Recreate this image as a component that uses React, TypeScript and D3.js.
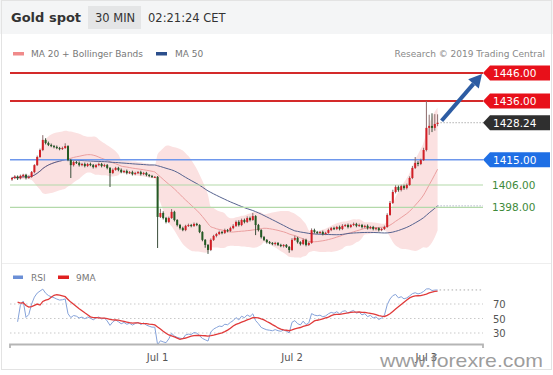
import React from "react";
import * as d3 from "d3";

// ---- data ----
const closes: number[] = [
  1408.5, 1409.0, 1408.4, 1409.2, 1409.6, 1408.6, 1408.9, 1410.6, 1413.1, 1416.0,
  1418.5, 1422.1, 1421.0, 1420.3, 1419.9, 1419.6, 1419.2, 1418.9, 1419.2, 1419.9,
  1414.9, 1413.1, 1414.2, 1413.9, 1413.1, 1413.5, 1412.8, 1413.5, 1413.1, 1412.4,
  1413.1, 1413.5, 1412.8, 1413.1, 1412.1, 1410.3, 1411.4, 1412.1, 1411.4, 1410.6,
  1411.0, 1410.3, 1410.6, 1409.9, 1410.3, 1410.6, 1409.9, 1410.3, 1409.6, 1409.2,
  1408.9, 1408.9, 1394.6, 1396.0, 1394.2, 1392.8, 1394.2, 1396.4, 1393.5, 1391.7,
  1390.6, 1389.9, 1391.4, 1391.7, 1391.4, 1392.1, 1391.7, 1389.2, 1386.4, 1384.6,
  1382.8, 1386.4, 1387.8, 1388.5, 1389.2, 1388.9, 1389.9, 1389.6, 1390.6, 1391.4,
  1392.8, 1391.7, 1393.5, 1392.8, 1394.2, 1393.5, 1394.9, 1391.7, 1389.9, 1387.4,
  1386.4, 1385.6, 1385.3, 1384.9, 1385.3, 1384.6, 1384.2, 1384.6, 1383.9, 1382.8,
  1386.4, 1387.1, 1385.6, 1384.9, 1386.4, 1384.6, 1385.3, 1389.9, 1389.2, 1388.9,
  1389.2, 1388.5, 1388.9, 1389.9, 1390.6, 1390.3, 1391.0, 1390.3, 1391.4, 1391.7,
  1391.0, 1391.7, 1392.1, 1391.4, 1391.7, 1391.0, 1391.4, 1390.6, 1391.0, 1390.3,
  1390.6, 1389.9, 1390.3, 1391.0, 1395.3, 1399.6, 1403.5, 1405.3, 1404.2, 1405.6,
  1404.9, 1406.0, 1408.5, 1412.1, 1413.9, 1413.5, 1414.9, 1418.5, 1426.4, 1427.1,
  1426.4, 1427.8, 1428.24,
];
const firstOpen = 1408.0;
const upperWicks: number[] = [
  .4, .5, .4, .5, .4, .4, .5, .4, .3, .5,
  .5, 1.7, .6, .5, .5, .4, .5, .4, .5, 1.0,
  .3, .4, .5, .4, .5, .4, .5, .4, .5, .4,
  .4, .5, .4, .5, .4, .3, .5, .4, .4, .5,
  .4, .5, .4, .5, .4, .4, .5, .4, .4, .3,
  .4, .3, .3, 1.5, .6, .4, .5, 1.0, .4, .3,
  .4, .5, .4, .5, .4, .5, .4, .3, .3, .3,
  .3, .5, .4, .4, .5, .4, .5, .4, .5, .6,
  .5, .6, .5, .5, .6, .5, 1.1, .3, .4, .3,
  .4, .3, .4, .3, .4, .3, .4, .3, .3, .3,
  .6, .8, .4, .3, .5, .4, .4, .6, .5, .4,
  .4, .5, .4, .5, .4, .5, .4, .5, .6, .4,
  .5, .4, .5, .4, .5, .4, .4, .5, .4, .4,
  .4, .3, .4, .5, .6, .7, .8, .6, .5, .5,
  .5, .5, .6, .7, 2.1, .6, .5, .8, 9.6, 4.0,
  4.5, 3.5, 3.0,
];
const lowerWicks: number[] = [
  .5, .4, .6, .4, .5, .6, .4, .3, .4, .3,
  .3, .4, .5, .4, .4, .5, .4, .5, .4, .3,
  .4, 4.6, .5, .4, .5, .4, .5, .4, .4, .5,
  .4, .4, .5, .4, .5, 5.0, .4, .3, .5, .4,
  .4, .5, .4, .5, .4, .4, .5, .4, .5, .4,
  .4, .4, 11.1, .4, .5, .5, .4, .3, .5, .5,
  .5, .4, .4, .4, .5, .4, .4, .4, .5, 1.0,
  1.4, .4, .4, .5, .4, .5, .4, .5, .4, .4,
  .4, .5, .4, .5, .4, .5, .3, 3.6, .5, .5,
  .4, .5, .4, .4, .5, .4, .4, .5, .4, 1.0,
  .4, .4, .5, .5, .4, .5, .4, .3, .5, .4,
  .4, .5, .4, .3, .4, .4, .4, .5, .4, .4,
  .5, .4, .4, .5, .4, .5, .4, .5, .4, .5,
  .5, .5, .4, .4, .3, .3, .4, .5, .6, .5,
  .6, .5, .3, .4, .4, .8, .4, .3, .5, 2.5,
  1.5, 1.0, .8,
];
const dayTickIndex: number[] = [52, 100, 148];
const dayTickLabels: string[] = ["Jul 1", "Jul 2", "Jul 3"];
const resistanceLevels: number[] = [1446, 1436];
const pivotLevel = 1415;
const supportLevels: number[] = [1406, 1398];
const rsiLevels: number[] = [70, 50, 30];

// ---- layout ----
const W = 553;
const H = 375;
const plotLeft = 10;
const plotRight = 483;
const FONT = "'DejaVu Sans', Verdana, sans-serif";

const N = closes.length;
const opens = closes.map((c, i) => (i === 0 ? firstOpen : closes[i - 1]));
const highs = closes.map((c, i) => Math.max(c, opens[i]) + upperWicks[i]);
const lows = closes.map((c, i) => Math.min(c, opens[i]) - lowerWicks[i]);

function windowStats(n: number) {
  return closes.map((_, i) => {
    const w = closes.slice(Math.max(0, i - n + 1), i + 1);
    const m = d3.mean(w) as number;
    const sd = w.length > 1 ? Math.sqrt(d3.mean(w, (v) => (v - m) * (v - m)) as number) : 0;
    return { m, sd };
  });
}
const ma20 = windowStats(20);
const ma50 = windowStats(50);

// RSI 14 (Wilder) + 9-period MA
const rsi: number[] = [NaN];
{
  let ag = 0, al = 0;
  for (let i = 1; i < N; i++) {
    const ch = closes[i] - closes[i - 1];
    const g = Math.max(ch, 0), l = Math.max(-ch, 0);
    if (i <= 14) { ag = (ag * (i - 1) + g) / i; al = (al * (i - 1) + l) / i; }
    else { ag = (ag * 13 + g) / 14; al = (al * 13 + l) / 14; }
    rsi.push(al === 0 ? 100 : 100 - 100 / (1 + ag / al));
  }
}
const rsiMA = rsi.map((_, i) => {
  const w = rsi.slice(Math.max(1, i - 8), i + 1).filter((v) => !isNaN(v));
  return w.length ? (d3.mean(w) as number) : NaN;
});

const x = d3.scaleLinear().domain([0, N - 1]).range([12, 12 + (N - 1) * 2.8]);
const y = d3.scaleLinear().domain([1446, 1381]).range([73, 255]);
const yr = d3.scaleLinear().domain([30, 70]).range([333, 304]);

function labelPoly(yc: number) {
  const h = 7.5;
  return `${plotRight},${yc} ${plotRight + 7},${yc - h} 550,${yc - h} 550,${yc + h} ${plotRight + 7},${yc + h}`;
}

export default function App() {
  const idx = d3.range(N);
  const band = d3
    .area<number>()
    .x((i) => x(i))
    .y0((i) => y(ma20[i].m - 2 * ma20[i].sd))
    .y1((i) => y(ma20[i].m + 2 * ma20[i].sd))
    .curve(d3.curveMonotoneX);
  const ma20Line = d3.line<number>().x((i) => x(i)).y((i) => y(ma20[i].m)).curve(d3.curveMonotoneX);
  const ma50Line = d3.line<number>().x((i) => x(i)).y((i) => y(ma50[i].m)).curve(d3.curveMonotoneX);
  const rsiLine = d3.line<number>().defined((i) => i >= 2).x((i) => x(i)).y((i) => yr(rsi[i]));
  const rsiMaLine = d3.line<number>().defined((i) => i >= 2).x((i) => x(i)).y((i) => yr(rsiMA[i]));

  const lastX = x(N - 1);
  const lastClose = closes[N - 1];
  const lastMa50 = ma50[N - 1].m;
  const lastRsi = rsi[N - 1];

  // arrow from last close to 1446 label
  const ax0 = lastX + 4, ay0 = y(lastClose) - 2;
  const ax1 = plotRight - 1, ay1 = y(resistanceLevels[0]) + 1;
  const dx = ax1 - ax0, dy = ay1 - ay0;
  const len = Math.hypot(dx, dy);
  const ux = dx / len, uy = dy / len;
  const hl = 13, hw = 7;
  const bx = ax1 - ux * hl, by = ay1 - uy * hl;
  const head = `${ax1},${ay1} ${bx - uy * hw},${by + ux * hw} ${bx + uy * hw},${by - ux * hw}`;

  return (
    <svg width={W} height={H} style={{ position: "absolute", left: 0, top: 0, background: "#fff" }} fontFamily={FONT}>
      {/* header */}
      <rect x={0} y={0} width={W} height={34} fill="#f4f5f6" />
      <rect x={1.5} y={0.5} width={550} height={369} fill="none" stroke="#e3e3e3" />
      <text x={11} y={22} fontSize={13} fontWeight="bold" fill="#333">Gold spot</text>
      <rect x={88} y={6} width={53} height={23} fill="#e4e5e6" />
      <text x={95} y={22} fontSize={11.5} fill="#333">30 MIN</text>
      <text x={148} y={22} fontSize={11.5} fill="#333">02:21:24 CET</text>

      {/* legend */}
      <rect x={13} y={52} width={11} height={3.5} fill="#f08a8a" />
      <text x={31} y={57} fontSize={9} fill="#777">MA 20 + Bollinger Bands</text>
      <rect x={156} y={52} width={11} height={3.5} fill="#2b4f8c" />
      <text x={175} y={57} fontSize={9} fill="#777">MA 50</text>
      <text x={545} y={57} fontSize={9} fill="#888" textAnchor="end">Research © 2019 Trading Central</text>

      {/* bollinger band and MAs */}
      <path d={band(idx) || ""} fill="#fbe1e1" />
      <path d={ma20Line(idx) || ""} fill="none" stroke="#eb9f9f" strokeWidth={1} />
      <path d={ma50Line(idx) || ""} fill="none" stroke="#56638f" strokeWidth={1} />
      <line x1={lastX} x2={plotRight} y1={y(lastMa50)} y2={y(lastMa50)} stroke="#8890b0" strokeDasharray="1,2" />

      {/* level lines */}
      {supportLevels.map((v) => (
        <g key={v}>
          <line x1={plotLeft} x2={plotRight} y1={y(v)} y2={y(v)} stroke="#b3d9aa" strokeWidth={1.2} />
          <text x={492} y={y(v) + 4} fontSize={10.5} fill="#3e8a3a">{v.toFixed(2)}</text>
        </g>
      ))}
      <line x1={plotLeft} x2={plotRight} y1={y(pivotLevel)} y2={y(pivotLevel)} stroke="#6e97ec" strokeWidth={1.5} />
      <polygon points={labelPoly(y(pivotLevel))} fill="#1f6fe5" />
      <text x={493} y={y(pivotLevel) + 4} fontSize={10.5} fill="#fff">{pivotLevel.toFixed(2)}</text>
      {resistanceLevels.map((v) => (
        <g key={v}>
          <line x1={plotLeft} x2={plotRight} y1={y(v)} y2={y(v)} stroke="#d42a2a" strokeWidth={2} />
          <polygon points={labelPoly(y(v))} fill="#e8101a" />
          <text x={493} y={y(v) + 4} fontSize={10.5} fill="#fff">{v.toFixed(2)}</text>
        </g>
      ))}
      <line x1={lastX + 3} x2={plotRight} y1={y(lastClose)} y2={y(lastClose)} stroke="#888" strokeDasharray="1,2" />
      <polygon points={labelPoly(y(lastClose))} fill="#2f2f2f" />
      <text x={493} y={y(lastClose) + 4} fontSize={10.5} fill="#fff">{lastClose.toFixed(2)}</text>

      {/* candles */}
      {idx.map((i) => {
        const up = closes[i] >= opens[i];
        const col = up ? "#d21f26" : "#245a24";
        const top = y(Math.max(opens[i], closes[i]));
        const bot = y(Math.min(opens[i], closes[i]));
        return (
          <g key={i}>
            <line x1={x(i)} x2={x(i)} y1={y(highs[i])} y2={y(lows[i])} stroke={up ? "#8a6a6a" : "#3a4d3a"} strokeWidth={1} />
            <rect x={x(i) - 1} y={top} width={2} height={Math.max(1, bot - top)} fill={col} />
          </g>
        );
      })}

      {/* arrow */}
      <line x1={ax0} y1={ay0} x2={bx} y2={by} stroke="#2d5ca3" strokeWidth={4} />
      <polygon points={head} fill="#2d5ca3" />

      {/* separator */}
      <line x1={2} x2={551} y1={263.5} y2={263.5} stroke="#eeeeee" />

      {/* RSI panel */}
      <rect x={13} y={275.5} width={10} height={3.5} fill="#6b8fd6" />
      <text x={31} y={281} fontSize={9} fill="#777">RSI</text>
      <rect x={58} y={275.5} width={11} height={3.5} fill="#e02020" />
      <text x={76} y={281} fontSize={9} fill="#777">9MA</text>
      {rsiLevels.map((v) => (
        <g key={v}>
          <line x1={plotLeft} x2={plotRight} y1={yr(v)} y2={yr(v)} stroke="#c9c9c9" strokeDasharray="1.5,2.5" />
          <text x={493} y={yr(v) + 4} fontSize={10} fill="#555">{v}</text>
        </g>
      ))}
      <path d={rsiLine(idx) || ""} fill="none" stroke="#86a3da" strokeWidth={1} />
      <path d={rsiMaLine(idx) || ""} fill="none" stroke="#e03a3a" strokeWidth={1.3} />
      <line x1={lastX + 2} x2={plotRight} y1={yr(lastRsi)} y2={yr(lastRsi)} stroke="#aaa" strokeDasharray="1.5,2.5" />

      {/* time axis */}
      <path d={`M${plotLeft},348V344.5H${plotRight}V348`} fill="none" stroke="#b5b5b5" strokeWidth={1.8} />
      {dayTickIndex.map((ti, k) => (
        <text key={ti} x={x(ti)} y={361} fontSize={10} fill="#555" textAnchor="middle">{dayTickLabels[k]}</text>
      ))}

      {/* watermark */}
      <text x={380} y={366.5} fontSize={19} fontFamily="'Liberation Sans', Arial, sans-serif" fill="#8c8c8c" fillOpacity={0.85} textLength={163} lengthAdjust="spacingAndGlyphs">www.forexre.com</text>
    </svg>
  );
}
